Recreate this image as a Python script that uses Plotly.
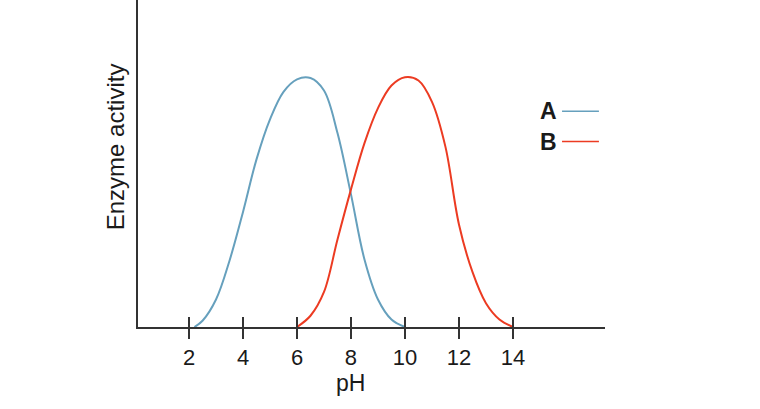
import plotly.graph_objects as go

# pH values and relative enzyme activity
a_ph = [2.2, 2.5, 3.0, 3.5, 4.0, 4.5, 5.0, 5.5, 6.0, 6.5, 7.0, 7.5, 8.0, 8.5, 9.0, 9.5, 10.0]
a_act = [0, 0.025, 0.11, 0.265, 0.46, 0.67, 0.83, 0.94, 0.99, 0.995, 0.945, 0.775, 0.53, 0.27, 0.11, 0.03, 0]

b_ph = [6.0, 6.5, 7.0, 7.5, 8.0, 8.5, 9.0, 9.5, 10.0, 10.5, 11.0, 11.5, 12.0, 12.5, 13.0, 13.5, 14.0]
b_act = [0, 0.045, 0.14, 0.35, 0.55, 0.735, 0.875, 0.965, 0.998, 0.985, 0.9, 0.72, 0.41, 0.22, 0.095, 0.03, 0]

tick_vals = [2, 4, 6, 8, 10, 12, 14]
tick_text = ["2", "4", "6", "8", "10", "12", "14"]
series_names = ["A", "B"]

COL_A = "#66a0bd"
COL_B = "#ec3b22"
AXC = "#333333"
TXT = "#1a1a1a"
FONT = "Liberation Sans, Arial, Helvetica, sans-serif"

fig = go.Figure()
fig.add_trace(go.Scatter(x=a_ph, y=a_act, mode="lines", name=series_names[0],
                         line=dict(color=COL_A, width=2, shape="spline", smoothing=1.0),
                         showlegend=False))
fig.add_trace(go.Scatter(x=b_ph, y=b_act, mode="lines", name=series_names[1],
                         line=dict(color=COL_B, width=2, shape="spline", smoothing=1.0),
                         showlegend=False))

xr = [0.11, 17.41]
fig.update_layout(
    width=760, height=409,
    margin=dict(l=138, r=155, t=0, b=82),
    paper_bgcolor="white", plot_bgcolor="white",
    font=dict(family=FONT, color=TXT),
    xaxis=dict(range=xr, showgrid=False, zeroline=False,
               showline=True, linecolor=AXC, linewidth=1.5,
               tickmode="array", tickvals=tick_vals, ticktext=tick_text,
               ticks="outside", ticklen=10, tickwidth=1.5, tickcolor=AXC,
               tickfont=dict(size=22, family=FONT, color=TXT)),
    xaxis2=dict(range=xr, overlaying="x", anchor="y", side="bottom",
                showgrid=False, zeroline=False, showline=False,
                tickmode="array", tickvals=tick_vals, showticklabels=False,
                ticks="inside", ticklen=10, tickwidth=1.5, tickcolor=AXC),
    yaxis=dict(range=[0, 1.307], showgrid=False, zeroline=False,
               showline=True, linecolor=AXC, linewidth=1.5,
               showticklabels=False, ticks=""),
)
# invisible trace to activate xaxis2 (used for the inner half of the ticks)
fig.add_trace(go.Scatter(x=[xr[0]], y=[0], xaxis="x2", mode="markers",
                         marker=dict(opacity=0), showlegend=False, hoverinfo="skip"))

# axis titles
fig.add_annotation(text="pH", x=8, xref="x", y=-0.17, yref="paper",
                   showarrow=False, font=dict(size=23, family=FONT, color=TXT),
                   xanchor="center", yanchor="middle")
fig.add_annotation(text="Enzyme activity", x=-0.049, xref="paper", y=0.55, yref="paper",
                   textangle=-90, showarrow=False,
                   font=dict(size=24, family=FONT, color=TXT),
                   xanchor="center", yanchor="middle")

# legend (letter on the left, line sample on the right)
for name, col, ly in [(series_names[0], COL_A, 0.660), (series_names[1], COL_B, 0.567)]:
    fig.add_annotation(text="<b>" + name + "</b>", x=0.878, xref="paper", y=ly, yref="paper",
                       showarrow=False, font=dict(size=23, family=FONT, color=TXT),
                       xanchor="center", yanchor="middle")
    fig.add_shape(type="line", xref="paper", yref="paper", x0=0.908, x1=0.987, y0=ly, y1=ly,
                  line=dict(color=col, width=1.5))

fig.write_html("out.html", config={"displayModeBar": False},
               post_script="document.body.style.margin='0';")
